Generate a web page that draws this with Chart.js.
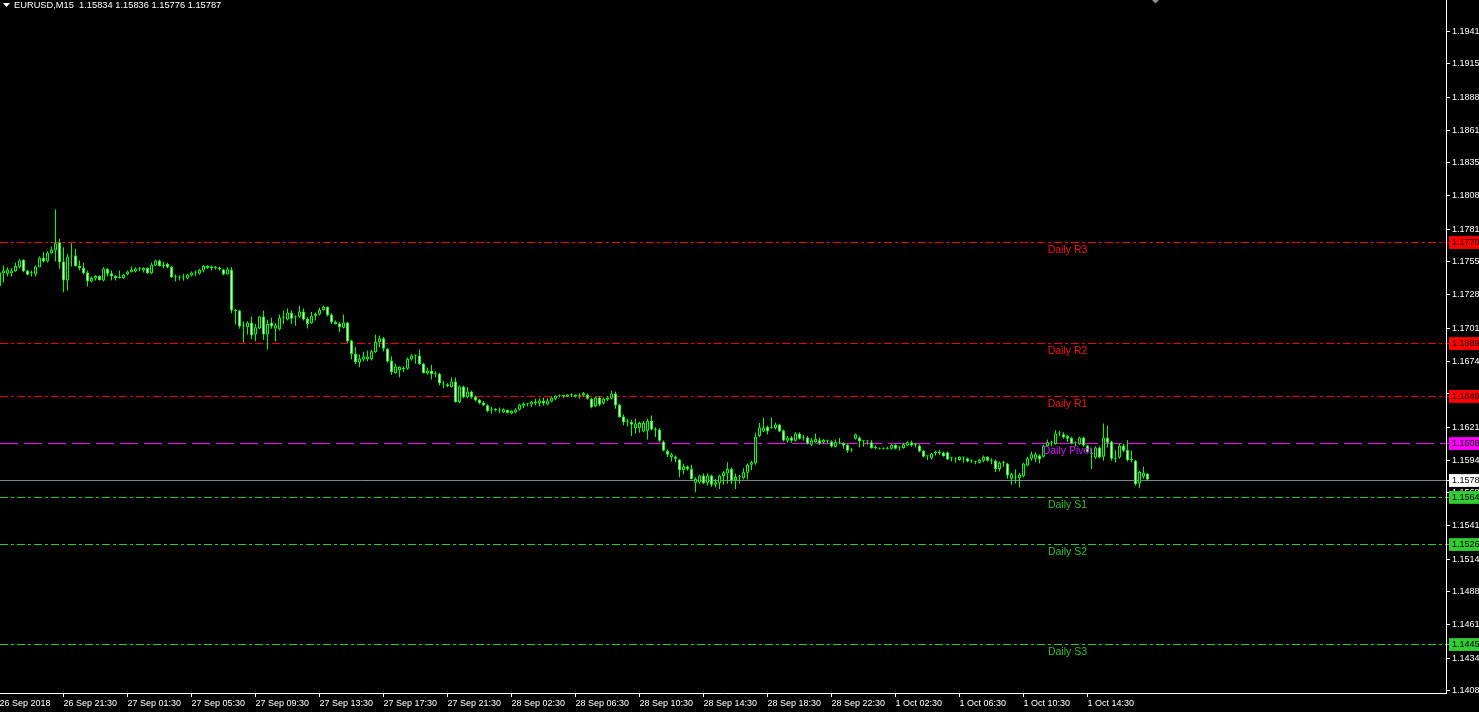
<!DOCTYPE html>
<html>
<head>
<meta charset="utf-8">
<style>
html,body{margin:0;padding:0;background:#000;overflow:hidden}
#wrap{position:relative;width:1479px;height:712px;background:#000}
canvas{display:block}
</style>
<script src="https://cdn.jsdelivr.net/npm/chart.js@4.4.1/dist/chart.umd.min.js"></script>
</head>
<body>
<div id="wrap"><canvas id="c" width="1479" height="712"></canvas></div>
<script>
// ---------------- data ----------------
const symbol = 'EURUSD';
const timeframe = 'M15';
const firstBar = -1; // bar index of the first (partly visible) candle

const opens = [1.17350,
1.17455,1.17450,1.17455,1.17471,1.17504,1.17563,1.17477,1.17460,1.17444,1.17504,
1.17579,1.17549,1.17617,1.17638,1.17706,1.17549,1.17396,1.17590,1.17598,1.17514,
1.17498,1.17460,1.17388,1.17412,1.17433,1.17396,1.17490,1.17455,1.17433,1.17417,
1.17415,1.17447,1.17463,1.17469,1.17490,1.17477,1.17498,1.17455,1.17517,1.17558,
1.17512,1.17531,1.17506,1.17423,1.17425,1.17420,1.17412,1.17436,1.17460,1.17450,
1.17477,1.17514,1.17498,1.17500,1.17498,1.17485,1.17444,1.17482,1.17153,1.17153,
1.17024,1.17018,1.17056,1.16959,1.17007,1.17105,1.16959,1.17056,1.17007,1.17002,
1.17094,1.17080,1.17134,1.17099,1.17102,1.17145,1.17086,1.17050,1.17110,1.17121,
1.17156,1.17183,1.17121,1.17061,1.17048,1.17013,1.17056,1.16910,1.16802,1.16732,
1.16756,1.16759,1.16759,1.16816,1.16897,1.16929,1.16843,1.16749,1.16646,1.16670,
1.16687,1.16681,1.16757,1.16789,1.16789,1.16722,1.16644,1.16665,1.16641,1.16641,
1.16565,1.16557,1.16533,1.16579,1.16412,1.16538,1.16452,1.16498,1.16455,1.16431,
1.16409,1.16387,1.16347,1.16350,1.16348,1.16328,1.16350,1.16320,1.16328,1.16350,
1.16382,1.16398,1.16393,1.16417,1.16401,1.16422,1.16393,1.16417,1.16439,1.16463,
1.16463,1.16455,1.16470,1.16471,1.16460,1.16466,1.16474,1.16439,1.16379,1.16449,
1.16401,1.16431,1.16439,1.16482,1.16390,1.16296,1.16250,1.16252,1.16201,1.16201,
1.16174,1.16180,1.16261,1.16190,1.16190,1.16093,1.16018,1.15969,1.15972,1.15948,
1.15861,1.15891,1.15872,1.15759,1.15764,1.15818,1.15759,1.15818,1.15743,1.15756,
1.15813,1.15834,1.15872,1.15780,1.15807,1.15797,1.15840,1.15905,1.15918,1.16137,
1.16174,1.16210,1.16202,1.16202,1.16231,1.16183,1.16099,1.16126,1.16099,1.16158,
1.16118,1.16126,1.16067,1.16088,1.16104,1.16086,1.16096,1.16096,1.16051,1.16088,
1.16083,1.16067,1.16024,1.16115,1.16126,1.16099,1.16096,1.16088,1.16040,1.16037,
1.16034,1.16037,1.16034,1.16067,1.16045,1.16040,1.16061,1.16088,1.16067,1.16061,
1.16018,1.15975,1.15959,1.16002,1.16000,1.16002,1.16007,1.15959,1.15959,1.15943,
1.15964,1.15959,1.15937,1.15932,1.15921,1.15937,1.15970,1.15937,1.15937,1.15872,
1.15921,1.15916,1.15792,1.15802,1.15797,1.15813,1.15899,1.15953,1.15953,1.15980,
1.15970,1.16056,1.16088,1.16072,1.16158,1.16153,1.16137,1.16121,1.16083,1.16072,
1.16126,1.16061,1.16002,1.15964,1.16045,1.15970,1.16126,1.16094,1.15953,1.15964,
1.16061,1.16024,1.15943,1.15937,1.15754,1.15808,1.15834];

const highs = [1.17469,
1.17517,1.17504,1.17498,1.17541,1.17568,1.17568,1.17482,1.17477,1.17517,1.17590,
1.17625,1.17633,1.17671,1.17970,1.17736,1.17665,1.17612,1.17698,1.17652,1.17558,
1.17541,1.17477,1.17428,1.17439,1.17439,1.17504,1.17496,1.17477,1.17439,1.17477,
1.17450,1.17477,1.17509,1.17504,1.17506,1.17504,1.17504,1.17541,1.17563,1.17566,
1.17547,1.17539,1.17514,1.17444,1.17439,1.17450,1.17450,1.17469,1.17477,1.17490,
1.17520,1.17520,1.17517,1.17514,1.17509,1.17490,1.17504,1.17504,1.17164,1.17158,
1.17064,1.17067,1.17105,1.17045,1.17110,1.17153,1.17078,1.17094,1.17050,1.17121,
1.17153,1.17169,1.17153,1.17110,1.17191,1.17169,1.17099,1.17142,1.17137,1.17175,
1.17194,1.17185,1.17131,1.17072,1.17061,1.17121,1.17061,1.16916,1.16856,1.16797,
1.16819,1.16829,1.16835,1.16959,1.16951,1.16938,1.16849,1.16784,1.16722,1.16703,
1.16703,1.16773,1.16803,1.16797,1.16838,1.16730,1.16692,1.16714,1.16660,1.16649,
1.16582,1.16565,1.16611,1.16611,1.16547,1.16547,1.16533,1.16506,1.16466,1.16439,
1.16422,1.16395,1.16374,1.16363,1.16368,1.16363,1.16352,1.16347,1.16363,1.16398,
1.16412,1.16403,1.16422,1.16439,1.16444,1.16449,1.16444,1.16455,1.16468,1.16474,
1.16466,1.16476,1.16484,1.16474,1.16482,1.16493,1.16482,1.16447,1.16455,1.16457,
1.16449,1.16460,1.16506,1.16498,1.16398,1.16312,1.16277,1.16269,1.16277,1.16255,
1.16261,1.16277,1.16304,1.16209,1.16201,1.16101,1.16029,1.16002,1.15980,1.15953,
1.15913,1.15899,1.15905,1.15805,1.15824,1.15834,1.15834,1.15824,1.15791,1.15824,
1.15856,1.15926,1.15883,1.15834,1.15824,1.15878,1.15915,1.15937,1.16164,1.16244,
1.16285,1.16223,1.16288,1.16245,1.16237,1.16191,1.16137,1.16137,1.16169,1.16169,
1.16148,1.16137,1.16121,1.16158,1.16126,1.16113,1.16110,1.16104,1.16110,1.16121,
1.16088,1.16072,1.16040,1.16158,1.16134,1.16104,1.16104,1.16104,1.16061,1.16045,
1.16045,1.16051,1.16072,1.16072,1.16056,1.16083,1.16096,1.16099,1.16083,1.16072,
1.16024,1.15980,1.16002,1.16018,1.16024,1.16013,1.16013,1.15970,1.15964,1.15975,
1.15970,1.15964,1.15948,1.15937,1.15953,1.15980,1.15975,1.15959,1.15948,1.15932,
1.15937,1.15921,1.15840,1.15867,1.15840,1.15921,1.15970,1.16013,1.16007,1.15991,
1.16067,1.16110,1.16099,1.16185,1.16180,1.16169,1.16148,1.16131,1.16094,1.16131,
1.16131,1.16067,1.16034,1.16056,1.16056,1.16239,1.16223,1.16099,1.16024,1.16077,
1.16077,1.16104,1.16018,1.15943,1.15856,1.15889,1.15836];

const lows = [1.17347,
1.17382,1.17428,1.17428,1.17466,1.17493,1.17463,1.17436,1.17428,1.17428,1.17504,
1.17541,1.17541,1.17612,1.17549,1.17490,1.17301,1.17315,1.17509,1.17509,1.17477,
1.17444,1.17347,1.17379,1.17396,1.17396,1.17388,1.17428,1.17396,1.17396,1.17412,
1.17409,1.17439,1.17460,1.17460,1.17471,1.17460,1.17452,1.17447,1.17512,1.17509,
1.17493,1.17496,1.17417,1.17388,1.17396,1.17393,1.17406,1.17428,1.17433,1.17444,
1.17463,1.17490,1.17477,1.17485,1.17477,1.17439,1.17444,1.17131,1.17040,1.17005,
1.16894,1.16959,1.16921,1.16905,1.17002,1.16916,1.16837,1.17005,1.16902,1.16991,
1.17045,1.17072,1.17045,1.17029,1.17094,1.17072,1.17007,1.17045,1.17072,1.17113,
1.17153,1.17105,1.17045,1.17040,1.16980,1.17007,1.16889,1.16759,1.16721,1.16694,
1.16743,1.16743,1.16748,1.16808,1.16856,1.16822,1.16730,1.16633,1.16641,1.16614,
1.16654,1.16673,1.16749,1.16722,1.16714,1.16644,1.16633,1.16595,1.16614,1.16547,
1.16525,1.16533,1.16530,1.16406,1.16403,1.16444,1.16444,1.16439,1.16417,1.16395,
1.16379,1.16331,1.16317,1.16336,1.16323,1.16325,1.16320,1.16314,1.16323,1.16344,
1.16363,1.16377,1.16374,1.16385,1.16379,1.16385,1.16385,1.16412,1.16428,1.16449,
1.16444,1.16452,1.16452,1.16449,1.16439,1.16457,1.16433,1.16363,1.16371,1.16379,
1.16393,1.16422,1.16436,1.16358,1.16285,1.16223,1.16215,1.16137,1.16158,1.16164,
1.16169,1.16110,1.16182,1.16129,1.16088,1.16012,1.15969,1.15932,1.15926,1.15805,
1.15829,1.15859,1.15786,1.15683,1.15751,1.15748,1.15737,1.15727,1.15724,1.15710,
1.15743,1.15751,1.15748,1.15710,1.15751,1.15786,1.15786,1.15861,1.15905,1.16129,
1.16169,1.16150,1.16196,1.16191,1.16169,1.16094,1.16083,1.16083,1.16094,1.16110,
1.16102,1.16072,1.16056,1.16080,1.16067,1.16075,1.16080,1.16045,1.16045,1.16072,
1.16034,1.16002,1.16007,1.16110,1.16045,1.16051,1.16067,1.16034,1.16029,1.16029,
1.16029,1.16029,1.16029,1.16029,1.16018,1.16034,1.16056,1.16051,1.16045,1.16007,
1.15964,1.15943,1.15948,1.15980,1.15986,1.15970,1.15943,1.15932,1.15921,1.15937,
1.15921,1.15926,1.15921,1.15910,1.15916,1.15926,1.15932,1.15910,1.15846,1.15851,
1.15889,1.15792,1.15743,1.15754,1.15721,1.15802,1.15894,1.15937,1.15926,1.15916,
1.15964,1.16051,1.16056,1.16067,1.16137,1.16115,1.16088,1.16072,1.16056,1.16067,
1.16051,1.16002,1.15872,1.15953,1.15959,1.15937,1.16045,1.15937,1.15926,1.15953,
1.16007,1.15932,1.15926,1.15738,1.15716,1.15792,1.15776];

const closes = [1.17463,
1.17477,1.17485,1.17477,1.17514,1.17558,1.17471,1.17442,1.17455,1.17509,1.17579,
1.17549,1.17620,1.17647,1.17698,1.17544,1.17396,1.17590,1.17598,1.17512,1.17496,
1.17455,1.17390,1.17417,1.17433,1.17398,1.17493,1.17450,1.17431,1.17415,1.17420,
1.17444,1.17469,1.17485,1.17490,1.17487,1.17498,1.17455,1.17525,1.17558,1.17512,
1.17525,1.17501,1.17423,1.17425,1.17420,1.17420,1.17444,1.17460,1.17466,1.17482,
1.17514,1.17498,1.17509,1.17498,1.17485,1.17444,1.17487,1.17153,1.17150,1.17024,
1.17029,1.17056,1.16951,1.17018,1.17105,1.16959,1.17045,1.17024,1.17034,1.17094,
1.17096,1.17137,1.17086,1.17099,1.17145,1.17080,1.17045,1.17110,1.17126,1.17158,
1.17183,1.17115,1.17059,1.17045,1.17018,1.17056,1.16905,1.16802,1.16735,1.16765,
1.16781,1.16781,1.16824,1.16899,1.16929,1.16843,1.16741,1.16654,1.16700,1.16697,
1.16680,1.16762,1.16789,1.16787,1.16719,1.16646,1.16665,1.16638,1.16638,1.16565,
1.16562,1.16540,1.16579,1.16412,1.16538,1.16452,1.16498,1.16452,1.16425,1.16403,
1.16385,1.16341,1.16350,1.16348,1.16344,1.16355,1.16325,1.16341,1.16352,1.16393,
1.16401,1.16400,1.16417,1.16403,1.16425,1.16401,1.16425,1.16449,1.16463,1.16463,
1.16461,1.16474,1.16468,1.16455,1.16463,1.16484,1.16439,1.16371,1.16449,1.16390,
1.16439,1.16449,1.16482,1.16385,1.16290,1.16250,1.16252,1.16228,1.16239,1.16244,
1.16244,1.16261,1.16190,1.16188,1.16099,1.16018,1.15986,1.15991,1.15953,1.15861,
1.15894,1.15870,1.15791,1.15791,1.15818,1.15756,1.15818,1.15743,1.15764,1.15818,
1.15845,1.15872,1.15775,1.15807,1.15805,1.15845,1.15905,1.15926,1.16131,1.16207,
1.16207,1.16175,1.16200,1.16231,1.16175,1.16102,1.16126,1.16099,1.16158,1.16115,
1.16120,1.16077,1.16104,1.16115,1.16077,1.16107,1.16098,1.16053,1.16088,1.16083,
1.16061,1.16018,1.16021,1.16153,1.16094,1.16099,1.16094,1.16040,1.16040,1.16034,
1.16037,1.16034,1.16067,1.16034,1.16045,1.16072,1.16088,1.16061,1.16067,1.16013,
1.15970,1.15975,1.15997,1.16000,1.16002,1.15975,1.15948,1.15959,1.15956,1.15970,
1.15964,1.15932,1.15937,1.15926,1.15948,1.15970,1.15937,1.15937,1.15872,1.15921,
1.15921,1.15819,1.15829,1.15800,1.15824,1.15916,1.15959,1.15991,1.15991,1.15948,
1.16061,1.16088,1.16083,1.16158,1.16158,1.16126,1.16115,1.16077,1.16083,1.16126,
1.16061,1.16007,1.15991,1.16045,1.15964,1.16126,1.16083,1.15953,1.15959,1.16061,
1.16018,1.15943,1.15945,1.15748,1.15846,1.15840,1.15787];

// time-axis labels (bar index -> label)
const xTickBars = [-1,15,31,47,63,79,95,111,127,143,159,175,191,207,223,239,255,271];
const xTickLabels = ['26 Sep 2018','26 Sep 21:30','27 Sep 01:30','27 Sep 05:30','27 Sep 09:30',
  '27 Sep 13:30','27 Sep 17:30','27 Sep 21:30','28 Sep 02:30','28 Sep 06:30','28 Sep 10:30',
  '28 Sep 14:30','28 Sep 18:30','28 Sep 22:30','1 Oct 02:30','1 Oct 06:30','1 Oct 10:30','1 Oct 14:30'];

// price-axis tick values
const yTickValues = [1.1941,1.1915,1.1888,1.1861,1.1835,1.1808,1.1781,1.1755,1.1728,1.1701,
  1.1674,1.1648,1.1621,1.1594,1.1568,1.1541,1.1514,1.1488,1.1461,1.1434,1.1408];

// daily pivot levels
const levelNames  = ['Daily R3','Daily R2','Daily R1','Daily Pivot','Daily S1','Daily S2','Daily S3'];
const levelValues = [1.17703,1.16886,1.16458,1.16077,1.15641,1.15260,1.14451];
const bidPrice = 1.15778;

// ---------------- styles / layout ----------------
const levelColors   = ['#ff0000','#ff0000','#ff0000','#ff00ff','#32cd32','#32cd32','#32cd32'];
const levelText     = ['#ff1010','#ff1010','#ff1010','#d010ff','#30c030','#30c030','#30c030'];
const levelDash     = [[8,3,3,3],[8,3,3,3],[8,3,3,3],[18,6],[8,3,3,3],[8,3,3,3],[8,3,3,3]];
const bidColor = '#778899';
const candleGreen = '#00ff00';
const X_MIN = -0.875, X_MAX = 360.625;      // visible bar window
const Y_MIN = 1.14059, Y_MAX = 1.19665;     // visible price window
const levelLabelBar = 266;
const FONT = '"Liberation Sans", Arial, sans-serif';

Chart.defaults.font.family = FONT;
Chart.defaults.font.size = 9;
Chart.defaults.color = '#ffffff';

const barX = opens.map((_, i) => firstBar + i);
const wickData = barX.map((x, i) => ({x, y: [lows[i], highs[i]]}));
const bodyData = barX.map((x, i) => ({x, y: [opens[i], closes[i]]}));
const bodyFill = barX.map((_, i) => closes[i] >= opens[i] ? '#000000' : '#ffffff');

const lineDatasets = levelValues.map((v, i) => ({
  type: 'line',
  data: [{x: X_MIN, y: v}, {x: X_MAX, y: v}],
  borderColor: levelColors[i],
  borderWidth: 1,
  borderDash: levelDash[i],
  pointRadius: 0,
  fill: false,
  order: 3
}));
lineDatasets.push({
  type: 'line',
  data: [{x: X_MIN, y: bidPrice}, {x: X_MAX, y: bidPrice}],
  borderColor: bidColor, borderWidth: 1, pointRadius: 0, fill: false, order: 3
});

const axisTickValues = [...yTickValues, ...levelValues, bidPrice];
const nReg = yTickValues.length;
const boxColors = [...levelColors, '#ffffff'];

const overlay = {
  id: 'overlay',
  afterDatasetsDraw(chart) {
    const {ctx, scales: {x, y}} = chart;
    ctx.save();
    ctx.font = '10.5px ' + FONT;
    ctx.textAlign = 'center';
    ctx.textBaseline = 'middle';
    levelNames.forEach((n, i) => {
      ctx.fillStyle = levelText[i];
      ctx.fillText(n, x.getPixelForValue(levelLabelBar), y.getPixelForValue(levelValues[i]) + 7.5);
    });
    ctx.restore();
  },
  afterDraw(chart) {
    const {ctx, scales: {x}} = chart;
    const last = opens.length - 1;
    ctx.save();
    // header
    ctx.fillStyle = '#ffffff';
    ctx.beginPath(); ctx.moveTo(3, 3); ctx.lineTo(10, 3); ctx.lineTo(6.5, 7); ctx.closePath(); ctx.fill();
    ctx.font = '9.3px ' + FONT;
    ctx.textAlign = 'left'; ctx.textBaseline = 'middle';
    const hdr = symbol + ',' + timeframe + '  ' + [opens[last], highs[last], lows[last], closes[last]].map(v => v.toFixed(5)).join(' ');
    ctx.fillText(hdr, 14, 5.5);
    // chart-shift marker
    const sx = x.getPixelForValue(firstBar + last + 2);
    ctx.fillStyle = '#909090';
    ctx.beginPath(); ctx.moveTo(sx - 3.5, 0); ctx.lineTo(sx + 3.5, 0); ctx.lineTo(sx, 3.5); ctx.closePath(); ctx.fill();
    ctx.restore();
  }
};

new Chart(document.getElementById('c'), {
  type: 'bar',
  data: {
    datasets: [
      {
        data: bodyData,
        backgroundColor: bodyFill,
        borderColor: candleGreen,
        borderWidth: 1,
        borderSkipped: false,
        inflateAmount: 0,
        barThickness: 3,
        minBarLength: 1,
        grouped: false,
        order: 0
      },
      {
        data: wickData,
        backgroundColor: candleGreen,
        borderWidth: 0,
        inflateAmount: 0,
        barThickness: 1,
        minBarLength: 1,
        grouped: false,
        order: 1
      },
      ...lineDatasets
    ]
  },
  options: {
    responsive: false,
    animation: false,
    devicePixelRatio: 1,
    layout: {padding: 0},
    plugins: {legend: {display: false}, tooltip: {enabled: false}, title: {display: false}},
    scales: {
      x: {
        type: 'linear',
        position: 'bottom',
        min: X_MIN, max: X_MAX,
        offset: false,
        grid: {display: true, offset: false, drawOnChartArea: false, drawTicks: true, tickLength: 4, color: '#ffffff'},
        border: {display: true, color: '#ffffff', width: 1},
        ticks: {
          autoSkip: false, maxRotation: 0, minRotation: 0, align: 'start', padding: 1,
          color: '#ffffff', font: {size: 9},
          callback: (v) => { const j = xTickBars.indexOf(v); return j >= 0 ? xTickLabels[j] : ''; }
        },
        afterBuildTicks: (s) => { s.ticks = xTickBars.map(v => ({value: v})); },
        afterFit: (s) => { s.height = 19; s.paddingLeft = 0; s.paddingRight = 0; }
      },
      y: {
        type: 'linear',
        position: 'right',
        min: Y_MIN, max: Y_MAX,
        beginAtZero: false,
        grid: {display: true, drawOnChartArea: false, drawTicks: true, tickLength: 4,
               color: (c) => c.index >= nReg ? boxColors[c.index - nReg] : '#ffffff'},
        border: {display: true, color: '#ffffff', width: 1},
        ticks: {
          autoSkip: false, padding: 2, font: {size: 9},
          color: (c) => c.index >= nReg ? '#000000' : '#ffffff',
          showLabelBackdrop: (c) => c.index >= nReg,
          backdropColor: (c) => c.index >= nReg ? boxColors[c.index - nReg] : 'rgba(0,0,0,0)',
          backdropPadding: {top: 1, bottom: 1, left: 3, right: 12},
          callback: (v) => Number(v).toFixed(4)
        },
        afterBuildTicks: (s) => { s.ticks = axisTickValues.map(v => ({value: v})); },
        afterFit: (s) => { s.width = 33; s.paddingTop = 0; s.paddingBottom = 0; }
      }
    }
  },
  plugins: [overlay]
});
</script>
</body>
</html>
